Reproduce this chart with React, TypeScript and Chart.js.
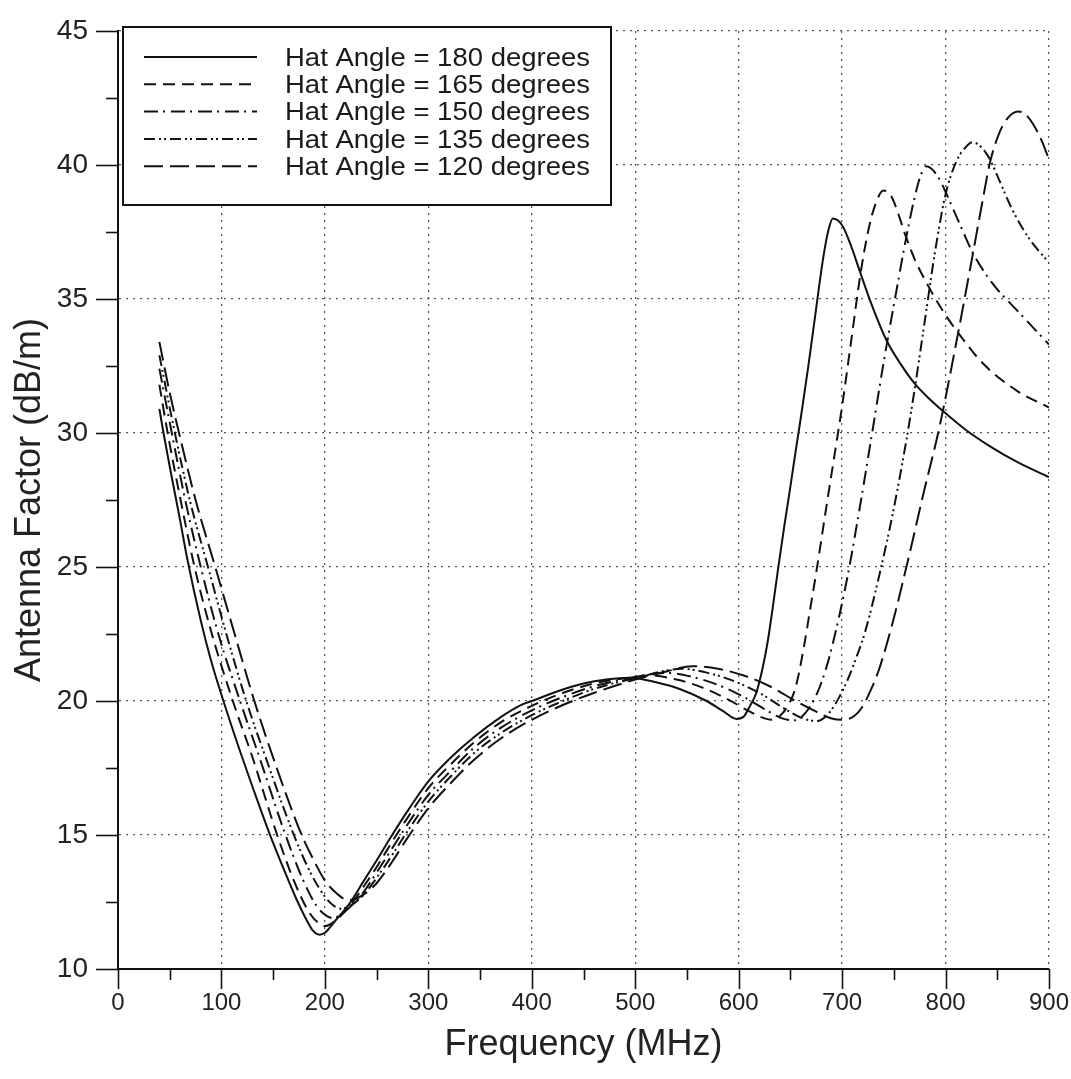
import React, { useEffect, useRef } from "react";
import { Chart, registerables } from "chart.js";

Chart.register(...registerables);

const FONT = "'Liberation Sans', Arial, Helvetica, sans-serif";

// ---- axis ticks ----
const xMajorTicks = [0, 100, 200, 300, 400, 500, 600, 700, 800, 900];
const xMinorTicks = [50, 150, 250, 350, 450, 550, 650, 750, 850];
const yMajorTicks = [10, 15, 20, 25, 30, 35, 40, 45];
const yMinorTicks = [12.5, 17.5, 22.5, 27.5, 32.5, 37.5, 42.5];

// ---- series labels ----
const seriesLabels = [
  "Hat Angle = 180 degrees",
  "Hat Angle = 165 degrees",
  "Hat Angle = 150 degrees",
  "Hat Angle = 135 degrees",
  "Hat Angle = 120 degrees",
];

// ---- Hat angle 180 (solid) ----
const freq180 = [40, 44, 50, 60, 67, 80, 90, 104, 120, 130, 146, 160, 172, 182, 188, 195, 200, 210, 224, 237, 250, 265, 280, 300, 322, 344, 370, 389, 400, 428, 450, 472, 495, 520, 543, 569, 585, 598, 605, 610, 617, 623, 628, 633, 638, 644, 650, 655, 660, 667, 673, 682, 687, 691, 700, 708, 717, 727, 743, 757, 770, 785, 798, 820, 843, 870, 900];
const af180 = [30.9, 30.0, 28.75, 26.75, 25.3, 23.0, 21.5, 19.75, 17.9, 16.8, 15.1, 13.75, 12.65, 11.85, 11.45, 11.28, 11.35, 11.8, 12.45, 13.25, 14.05, 15.0, 15.9, 17.0, 17.9, 18.65, 19.4, 19.84, 20.0, 20.4, 20.65, 20.8, 20.87, 20.7, 20.45, 20.0, 19.62, 19.33, 19.42, 19.75, 20.3, 21.2, 22.2, 23.5, 24.9, 26.5, 28.0, 29.3, 30.55, 32.4, 34.1, 36.6, 37.6, 38.0, 37.75, 37.05, 36.05, 34.95, 33.45, 32.55, 31.85, 31.25, 30.8, 30.1, 29.5, 28.9, 28.35];

// ---- Hat angle 165 (dashed) ----
const freq165 = [40, 48, 60, 74, 90, 111, 130, 153, 170, 185, 195, 200, 210, 224, 237, 250, 265, 280, 300, 322, 344, 370, 400, 430, 460, 490, 515, 540, 565, 590, 610, 625, 632, 640, 648, 655, 663, 669, 675, 685, 696, 700, 709, 718, 725, 731, 740, 748, 755, 761, 770, 783, 800, 811, 836, 868, 900];
const af165 = [31.8, 30.0, 27.6, 25.0, 22.6, 20.0, 17.9, 15.1, 13.3, 12.1, 11.68, 11.6, 11.8, 12.35, 13.05, 13.8, 14.75, 15.65, 16.75, 17.65, 18.45, 19.2, 19.82, 20.3, 20.65, 20.85, 20.95, 20.8, 20.5, 20.05, 19.62, 19.35, 19.3, 19.45, 19.85, 20.5, 22.0, 23.4, 24.8, 27.3, 30.0, 31.0, 33.5, 36.0, 37.5, 38.4, 39.05, 38.8, 38.1, 37.4, 36.5, 35.5, 34.4, 33.8, 32.6, 31.6, 30.95];

// ---- Hat angle 150 (dash-dot) ----
const freq150 = [40, 52, 65, 80, 97, 118, 138, 161, 178, 192, 202, 208, 216, 224, 237, 250, 265, 280, 300, 322, 344, 370, 400, 430, 460, 490, 530, 555, 580, 605, 625, 640, 654, 662, 670, 676, 684, 692, 705, 717, 729, 740, 752, 762, 769, 775, 781, 788, 795, 800, 808, 816, 826, 845, 871, 900];
const af150 = [32.4, 30.0, 27.5, 25.0, 22.5, 20.0, 17.75, 15.1, 13.4, 12.35, 11.97, 11.9, 12.05, 12.3, 12.85, 13.6, 14.5, 15.4, 16.5, 17.4, 18.25, 19.0, 19.65, 20.15, 20.55, 20.82, 21.05, 20.9, 20.6, 20.15, 19.7, 19.38, 19.28, 19.45, 19.85, 20.3, 21.15, 22.3, 24.6, 27.2, 30.0, 32.6, 35.2, 37.3, 38.6, 39.5, 39.95, 39.8, 39.4, 39.0, 38.3, 37.6, 36.75, 35.6, 34.5, 33.3];

// ---- Hat angle 135 (dash-dot-dot) ----
const freq135 = [40, 55, 70, 87, 104, 124, 145, 169, 186, 200, 210, 215, 224, 237, 250, 265, 280, 300, 322, 344, 370, 400, 430, 460, 500, 545, 570, 595, 620, 645, 662, 676, 685, 692, 698, 706, 714, 722, 736, 749, 762, 770, 780, 790, 800, 810, 818, 826, 835, 843, 850, 865, 880, 900];
const af135 = [32.9, 30.0, 27.4, 25.0, 22.6, 20.0, 17.65, 15.1, 13.6, 12.7, 12.32, 12.25, 12.35, 12.75, 13.4, 14.25, 15.15, 16.25, 17.2, 18.05, 18.8, 19.47, 20.0, 20.45, 20.85, 21.2, 21.05, 20.75, 20.3, 19.7, 19.35, 19.25, 19.45, 19.8, 20.2, 20.85, 21.65, 22.55, 24.7, 27.0, 29.7, 31.6, 34.2, 36.8, 38.9, 40.1, 40.6, 40.85, 40.65, 40.2, 39.6, 38.3, 37.3, 36.35];

// ---- Hat angle 120 (long dash) ----
const freq120 = [40, 50, 59, 75, 94, 112, 131, 153, 177, 190, 200, 212, 222, 230, 240, 250, 265, 280, 300, 322, 344, 370, 400, 430, 460, 500, 530, 555, 580, 605, 630, 655, 675, 690, 702, 712, 719, 724, 735, 748, 764, 779, 794, 810, 826, 835, 843, 852, 860, 870, 877, 885, 893, 900];
const af120 = [33.4, 31.5, 30.0, 27.5, 25.0, 22.6, 20.1, 17.55, 15.05, 14.0, 13.3, 12.8, 12.57, 12.62, 12.85, 13.2, 14.0, 14.9, 16.0, 16.95, 17.8, 18.6, 19.3, 19.85, 20.3, 20.8, 21.1, 21.3, 21.2, 20.95, 20.55, 20.0, 19.6, 19.35, 19.3, 19.45, 19.75, 20.1, 21.1, 22.8, 25.3, 27.8, 30.2, 33.3, 36.6, 38.5, 40.1, 41.2, 41.75, 42.0, 41.9, 41.5, 40.9, 40.2];

const seriesFreqs = [freq180, freq165, freq150, freq135, freq120];
const seriesValues = [af180, af165, af150, af135, af120];
const seriesDashes: number[][] = [[], [12, 7], [14, 5, 2, 6], [11, 4, 2, 3, 2, 4], [19, 7]];

const axisTicksPlugin = {
  id: "axisTicks",
  afterDraw(chart: any) {
    const { ctx, chartArea, scales } = chart;
    ctx.save();
    ctx.strokeStyle = "#111";
    ctx.lineWidth = 1.6;
    ctx.setLineDash([]);
    const drawX = (vals: number[], len: number) => {
      vals.forEach((v) => {
        const px = Math.round(scales.x.getPixelForValue(v)) + 0.5;
        ctx.beginPath();
        ctx.moveTo(px, chartArea.bottom);
        ctx.lineTo(px, chartArea.bottom + len);
        ctx.stroke();
      });
    };
    const drawY = (vals: number[], len: number) => {
      vals.forEach((v) => {
        const py = Math.round(scales.y.getPixelForValue(v)) + 0.5;
        ctx.beginPath();
        ctx.moveTo(chartArea.left, py);
        ctx.lineTo(chartArea.left - len, py);
        ctx.stroke();
      });
    };
    drawX(xMajorTicks, 20);
    drawX(xMinorTicks, 11);
    drawY(yMajorTicks, 22);
    drawY(yMinorTicks, 12);
    ctx.restore();
  },
};

const legendBoxPlugin = {
  id: "legendBox",
  afterDatasetsDraw(chart: any) {
    const { ctx, chartArea } = chart;
    const L = chartArea.left + 5;
    const T = chartArea.top - 4;
    const W = 488;
    const H = 178;
    ctx.save();
    ctx.fillStyle = "#fff";
    ctx.fillRect(L, T, W, H);
    ctx.strokeStyle = "#111";
    ctx.lineWidth = 2;
    ctx.setLineDash([]);
    ctx.strokeRect(L, T, W, H);
    chart.data.datasets.forEach((ds: any, i: number) => {
      const y = T + 31 + i * 27.3;
      ctx.save();
      ctx.strokeStyle = ds.borderColor;
      ctx.lineWidth = ds.borderWidth;
      ctx.setLineDash(ds.borderDash || []);
      ctx.beginPath();
      ctx.moveTo(L + 21, y - 1);
      ctx.lineTo(L + 134, y - 1);
      ctx.stroke();
      ctx.restore();
      ctx.save();
      ctx.fillStyle = "#1a1a1a";
      ctx.font = `25px ${FONT}`;
      ctx.textBaseline = "middle";
      ctx.textAlign = "left";
      ctx.translate(L + 162, y + 1);
      ctx.scale(1.1, 1);
      ctx.fillText(ds.label, 0, 0);
      ctx.restore();
    });
    ctx.restore();
  },
};

export default function App() {
  const canvasRef = useRef<HTMLCanvasElement>(null);

  useEffect(() => {
    if (!canvasRef.current) return;
    const datasets = seriesLabels.map((label, i) => ({
      label,
      data: seriesFreqs[i].map((f, j) => ({ x: f, y: seriesValues[i][j] })),
      borderColor: "#111",
      borderWidth: 2,
      borderDash: seriesDashes[i],
      pointRadius: 0,
      fill: false,
      cubicInterpolationMode: "monotone" as const,
    }));

    const chart = new Chart(canvasRef.current, {
      type: "line",
      data: { datasets },
      plugins: [axisTicksPlugin, legendBoxPlugin],
      options: {
        animation: false,
        responsive: true,
        maintainAspectRatio: false,
        layout: { padding: { top: 31, right: 22, left: 0, bottom: 0 } },
        plugins: {
          legend: { display: false },
          tooltip: { enabled: false },
        },
        scales: {
          x: {
            type: "linear",
            min: 0,
            max: 900,
            ticks: {
              stepSize: 100,
              autoSkip: false,
              maxRotation: 0,
              padding: 20,
              color: "#222",
              font: { family: FONT, size: 24 },
            },
            grid: { color: "#555", lineWidth: 1.3, drawTicks: false },
            border: { display: true, color: "#111", width: 2, dash: [2, 5] },
            title: {
              display: true,
              text: "Frequency (MHz)",
              color: "#222",
              font: { family: FONT, size: 36 },
              padding: { top: 0, bottom: 12 },
            },
            afterFit: (s: any) => {
              s.height = 110;
              s.paddingLeft = 0;
              s.paddingRight = 0;
            },
          },
          y: {
            type: "linear",
            min: 10,
            max: 45,
            ticks: {
              stepSize: 5,
              padding: 30,
              color: "#222",
              font: { family: FONT, size: 28 },
            },
            grid: { color: "#555", lineWidth: 1.3, drawTicks: false },
            border: { display: true, color: "#111", width: 2, dash: [2, 5] },
            title: {
              display: true,
              text: "Antenna Factor (dB/m)",
              color: "#222",
              font: { family: FONT, size: 36 },
              padding: { top: 8, bottom: 0 },
            },
            afterFit: (s: any) => {
              s.width = 118;
              s.paddingTop = 0;
              s.paddingBottom = 0;
            },
          },
        },
      },
    });
    return () => chart.destroy();
  }, []);

  return (
    <div
      style={{
        position: "absolute",
        left: 0,
        top: 0,
        width: 1071,
        height: 1079,
        background: "#fff",
      }}
    >
      <canvas ref={canvasRef} />
    </div>
  );
}
